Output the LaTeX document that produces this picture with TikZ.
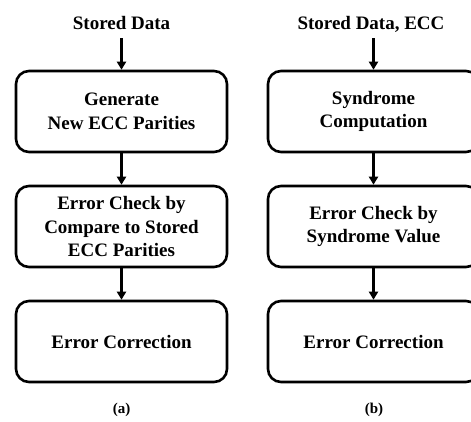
\documentclass[tikz,border=0pt]{standalone}
\usepackage{fontspec}
\setmainfont{Liberation Serif}
\usetikzlibrary{arrows.meta}
\begin{document}
\begin{tikzpicture}[x=1pt,y=-1pt,
  box/.style={draw=black,line width=2.6pt,rounded corners=13pt,minimum width=211pt,minimum height=81pt,align=center,inner sep=0pt,
    font=\fontsize{19}{23.5}\selectfont\bfseries},
  lab/.style={inner sep=0pt,anchor=base,font=\fontsize{19}{22}\selectfont\bfseries},
  sublab/.style={inner sep=0pt,anchor=base,font=\fontsize{15}{18}\selectfont\bfseries},
  arr/.style={line width=2.4pt,-{Triangle[length=8pt,width=9pt]}}]
\clip (0,0) rectangle (471,421);
\fill[white] (0,0) rectangle (471,421);
% left column
\node[lab] (ina) at (121.5,29) {Stored Data};
\node[box] (a1) at (121.5,111.5) {Generate\\New ECC Parities};
\node[box] (a2) at (121.5,226.5) {Error Check by\\Compare to Stored\\ECC Parities};
\node[box] (a3) at (121.5,341.5) {Error Correction};
\node[sublab] (capa) at (121.5,413) {(a)};
% right column
\node[lab] (inb) at (371,29) {Stored Data, ECC};
\node[box] (b1) at (373.5,111.5) {Syndrome\\Computation};
\node[box] (b2) at (373.5,226.5) {Error Check by\\Syndrome Value};
\node[box] (b3) at (373.5,341.5) {Error Correction};
\node[sublab] (capb) at (374,413) {(b)};
% connectors
\draw[arr] ([yshift=-9pt]ina.base) -- (a1.north);
\draw[arr] (a1.south) -- (a2.north);
\draw[arr] (a2.south) -- (a3.north);
\draw[arr] ([xshift=2.5pt,yshift=-9pt]inb.base) -- (b1.north);
\draw[arr] (b1.south) -- (b2.north);
\draw[arr] (b2.south) -- (b3.north);
\end{tikzpicture}
\end{document}
